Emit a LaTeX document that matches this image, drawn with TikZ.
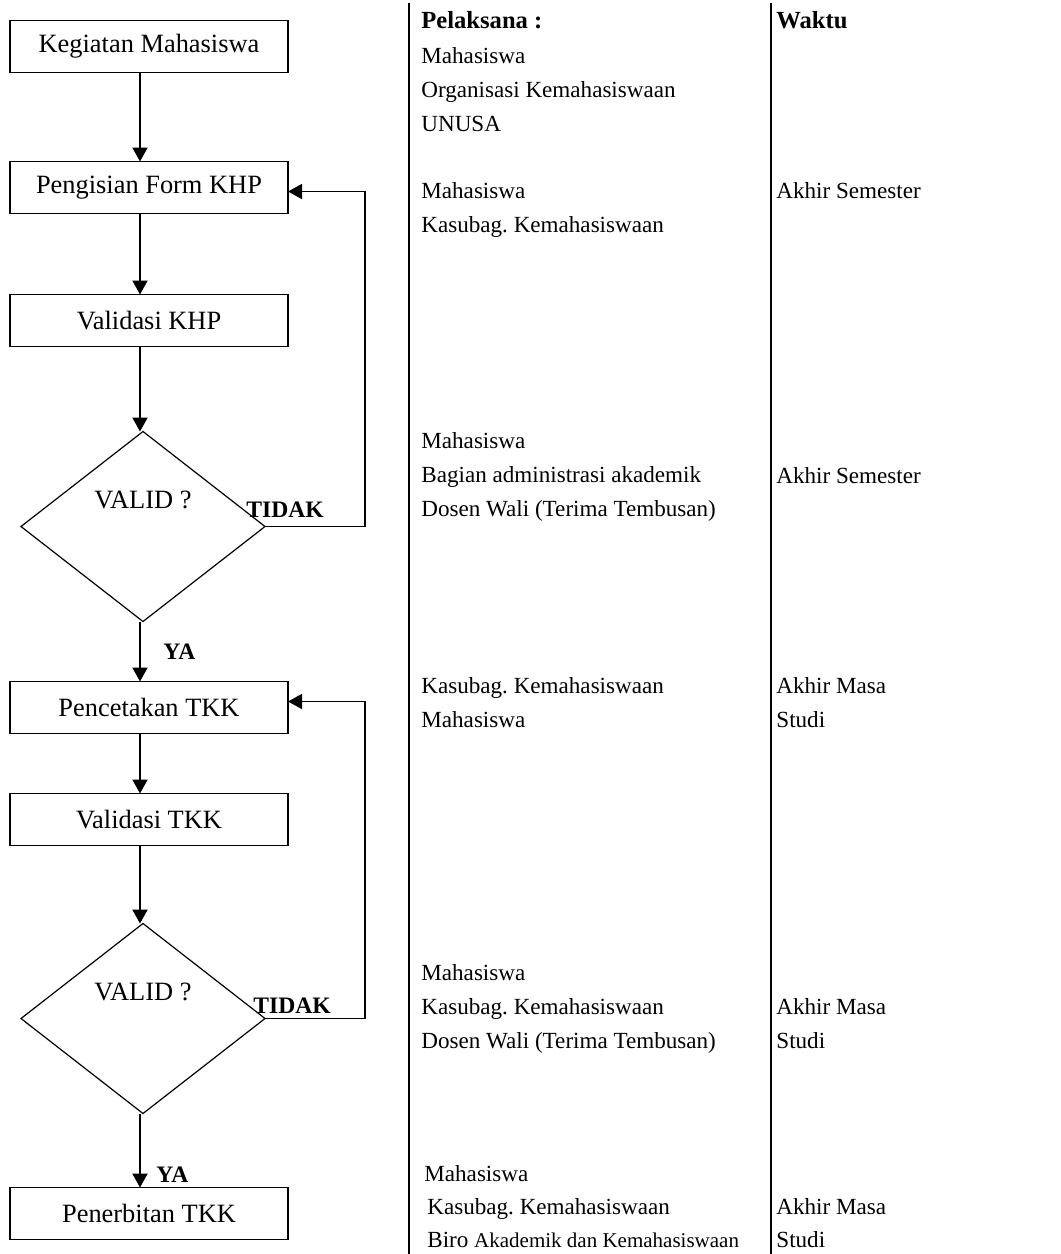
\documentclass[tikz,border=0pt]{standalone}
\usepackage{fontspec}
\setmainfont{Liberation Serif}
\usetikzlibrary{positioning,shapes.geometric,arrows.meta}
\frenchspacing

\begin{document}
\begin{tikzpicture}[x=0.5pt, y=-0.5pt, >={Triangle[length=7pt,width=7.5pt]},
                    box/.style={draw, line width=0.75pt, minimum width=139pt, minimum height=26pt,
                                inner sep=0pt, outer sep=0pt, font=\fontsize{13.2}{15}\selectfont},
                    decision/.style={draw, diamond, aspect=1.28, line width=0.6pt, minimum width=122pt,
                                     minimum height=95pt, inner sep=0pt, outer sep=0pt},
                    flowline/.style={->, line width=1pt},
                    backline/.style={->, line width=0.75pt},
                    coltext/.style={anchor=base west, align=left, inner sep=0pt,
                                    font=\fontsize{11.55}{17}\selectfont},
                    head/.style={anchor=base west, inner sep=0pt, font=\bfseries\fontsize{12.3}{15}\selectfont},
                    answer/.style={anchor=base west, inner sep=0pt, font=\bfseries\fontsize{11.8}{14}\selectfont}]
\useasboundingbox (0,0) rectangle (1061,1254);
\coordinate (spine) at (140,0);
% flow chart
\node[box] (kegiatan) at (149,46.5) {Kegiatan Mahasiswa};
\node[box, below=44.5pt of kegiatan] (form) {Pengisian Form KHP};
\node[box, below=40.5pt of form] (vkhp) {Validasi KHP};
\node[decision, below=42.5pt of vkhp, xshift=-3pt,
      label={[font=\fontsize{13.2}{15}\selectfont, yshift=13.4pt]center:VALID ?}] (valid1) {};
\node[box, below=30pt of valid1, xshift=3pt] (cetak) {Pencetakan TKK};
\node[box, below=30pt of cetak] (vtkk) {Validasi TKK};
\node[decision, below=39pt of vtkk, xshift=-3pt,
      label={[font=\fontsize{13.2}{15}\selectfont, yshift=13.4pt]center:VALID ?}] (valid2) {};
\node[box, below=37pt of valid2, xshift=3pt] (terbit) {Penerbitan TKK};
\node[answer] (tidak1) at (246,517) {TIDAK};
\node[answer] (tidak2) at (253,1013) {TIDAK};
\node[answer] (ya1) at (163,659) {YA};
\node[answer] (ya2) at (156,1182) {YA};
\draw[flowline] (kegiatan.south -| spine) -- (form.north -| spine);
\draw[flowline] (form.south -| spine) -- (vkhp.north -| spine);
\draw[flowline] (vkhp.south -| spine) -- (valid1.north -| spine);
\draw[flowline] (valid1.south -| spine) -- (cetak.north -| spine);
\draw[flowline] (cetak.south -| spine) -- (vtkk.north -| spine);
\draw[flowline] (vtkk.south -| spine) -- (valid2.north -| spine);
\draw[flowline] (valid2.south -| spine) -- (terbit.north -| spine);
\draw[backline] (valid1.east) -- ++(100,0) |- ([yshift=-2pt]form.east);
\draw[backline] (valid2.east) -- ++(100,0) |- ([yshift=3pt]cetak.east);
% columns (nodes sit on the baseline of their last line)
\draw[line width=0.9pt] (409,3) -- (409,1254);
\draw[line width=0.9pt] (771,3) -- (771,1254);
\node[head] (pelaksana) at (421,28) {Pelaksana :};
\node[head] (waktu) at (776,28) {Waktu};
\node[coltext] (colA) at (421,131) {Mahasiswa\\Organisasi Kemahasiswaan\\UNUSA};
\node[coltext] (colB) at (421,232) {Mahasiswa\\Kasubag. Kemahasiswaan};
\node[coltext] (timeB) at (776,198) {Akhir Semester};
\node[coltext] (colC) at (421,516) {Mahasiswa\\Bagian administrasi akademik\\Dosen Wali (Terima Tembusan)};
\node[coltext] (timeC) at (776,483) {Akhir Semester};
\node[coltext] (colD) at (421,727) {Kasubag. Kemahasiswaan\\Mahasiswa};
\node[coltext] (timeD) at (776,727) {Akhir Masa\\Studi};
\node[coltext] (colE) at (421,1048) {Mahasiswa\\Kasubag. Kemahasiswaan\\Dosen Wali (Terima Tembusan)};
\node[coltext] (timeE) at (776,1048) {Akhir Masa\\Studi};
\node[coltext, font=\fontsize{11.55}{16.3}\selectfont] (colF) at (424,1247)
  {Mahasiswa\\\hspace*{1.5pt}Kasubag. Kemahasiswaan\\\hspace*{1.5pt}Biro {\fontsize{10.5}{16.3}\selectfont Akademik dan Kemahasiswaan}};
\node[coltext, font=\fontsize{11.55}{16.3}\selectfont] (timeF) at (776,1247) {Akhir Masa\\Studi};
\end{tikzpicture}
\end{document}
